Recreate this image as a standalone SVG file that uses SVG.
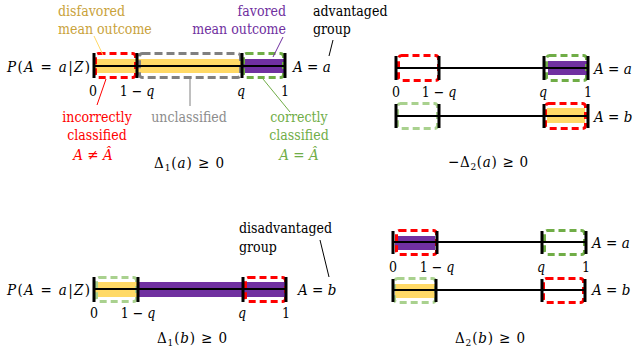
<svg xmlns="http://www.w3.org/2000/svg" width="634" height="354" viewBox="0 0 634 354">
<style>
text{font-family:"DejaVu Serif Condensed","DejaVu Serif","Noto Serif",serif;font-size:14px;fill:#000}
.mt{font-size:15px}
.m{text-anchor:middle}.e{text-anchor:end}
.i{font-style:italic}
.sub{font-size:10px}
.gold{fill:#C9A23A}.pur{fill:#7030A0}.red{fill:#FF0000}.gry{fill:#8C8C8C}.grn{fill:#70AD47}
.axis{stroke:#000;stroke-width:2}
.tick{stroke:#000;stroke-width:3}
.box{fill:none;stroke-width:3;stroke-dasharray:7 4}
.rb{stroke:#FF0000}.gb{stroke:#70AD47}.lgb{stroke:#A9D18E}.grb{stroke:#808080;stroke-dasharray:8 4}
.fy{fill:#FFD966}.fp{fill:#7030A0}
.lead{stroke-width:1;fill:none}
</style>

<g id="panel-1a">
  <rect class="fy" x="94" y="59" width="148" height="14"/>
  <rect class="fp" x="242" y="59" width="43" height="14"/>
  <rect class="box rb" x="95.5" y="53.5" width="40" height="24" rx="3"/>
  <rect class="box grb" x="139.5" y="53.5" width="101" height="24" rx="3"/>
  <rect class="box gb" x="243.5" y="53.5" width="40" height="24" rx="3"/>
  <line class="axis" x1="94" y1="66" x2="285" y2="66"/>
  <line class="tick" x1="94" y1="53" x2="94" y2="78"/>
  <line class="tick" x1="137" y1="53" x2="137" y2="78"/>
  <line class="tick" x1="242" y1="53" x2="242" y2="78"/>
  <line class="tick" x1="285" y1="53" x2="285" y2="78"/>
  <text class="gold" x="58" y="16">disfavored</text>
  <text class="gold" x="58" y="34">mean outcome</text>
  <text class="pur e" x="286" y="16">favored</text>
  <text class="pur e" x="286" y="34">mean outcome</text>
  <text x="313" y="16">advantaged</text>
  <text x="313" y="34">group</text>
  <text class="mt" x="7" y="72" textLength="83" lengthAdjust="spacing"><tspan class="i">P</tspan>(<tspan class="i">A</tspan> = <tspan class="i">a</tspan>|<tspan class="i">Z</tspan>)</text>
  <text class="mt" x="293" y="72"><tspan class="i">A</tspan> = <tspan class="i">a</tspan></text>
  <text class="m" x="93" y="96">0</text>
  <text class="m" x="137" y="96">1 − <tspan class="i">q</tspan></text>
  <text class="m i" x="241" y="96">q</text>
  <text class="m" x="285" y="96">1</text>
  <text class="red m" x="97" y="122">incorrectly</text>
  <text class="red m" x="97" y="140">classified</text>
  <text class="red m mt" x="93" y="160"><tspan class="i">A</tspan> ≠ <tspan class="i">Â</tspan></text>
  <text class="gry m" x="189" y="122">unclassified</text>
  <text class="grn m" x="299" y="122">correctly</text>
  <text class="grn m" x="299" y="140">classified</text>
  <text class="grn m mt" x="299" y="160"><tspan class="i">A</tspan> = <tspan class="i">Â</tspan></text>
  <text class="mt" x="154" y="168" textLength="70" lengthAdjust="spacing">Δ<tspan class="sub" dy="3">1</tspan><tspan dy="-3">(</tspan><tspan class="i">a</tspan>) ≥ 0</text>
</g>

<g id="panel-2a">
  <rect class="fp" x="548" y="61" width="39" height="14"/>
  <rect class="box rb" x="398.5" y="55.5" width="40" height="25" rx="3"/>
  <rect class="box gb" x="546.5" y="55.5" width="40" height="25" rx="3"/>
  <line class="axis" x1="396" y1="68" x2="588" y2="68"/>
  <line class="tick" x1="396" y1="56" x2="396" y2="80"/>
  <line class="tick" x1="439" y1="56" x2="439" y2="80"/>
  <line class="tick" x1="544" y1="56" x2="544" y2="80"/>
  <line class="tick" x1="588" y1="56" x2="588" y2="80"/>
  <text class="mt" x="594" y="74"><tspan class="i">A</tspan> = <tspan class="i">a</tspan></text>
  <text class="m" x="396" y="97">0</text>
  <text class="m" x="439" y="97">1 − <tspan class="i">q</tspan></text>
  <text class="m i" x="543" y="97">q</text>
  <text class="m" x="588" y="97">1</text>
  <rect class="fy" x="547" y="108" width="38" height="15"/>
  <rect class="box lgb" x="397.5" y="103.5" width="40" height="25" rx="3"/>
  <rect class="box rb" x="545.5" y="103.5" width="40" height="25" rx="3"/>
  <line class="axis" x1="396" y1="116" x2="588" y2="116"/>
  <line class="tick" x1="396" y1="104" x2="396" y2="128"/>
  <line class="tick" x1="439" y1="104" x2="439" y2="128"/>
  <line class="tick" x1="544" y1="104" x2="544" y2="128"/>
  <line class="tick" x1="588" y1="104" x2="588" y2="128"/>
  <text class="mt" x="594" y="122"><tspan class="i">A</tspan> = <tspan class="i">b</tspan></text>
  <text class="mt" x="448" y="167" textLength="80" lengthAdjust="spacing">−Δ<tspan class="sub" dy="3">2</tspan><tspan dy="-3">(</tspan><tspan class="i">a</tspan>) ≥ 0</text>
</g>

<g id="panel-1b">
  <rect class="fy" x="94" y="282" width="44" height="15"/>
  <rect class="fp" x="138" y="282" width="148" height="15"/>
  <rect class="box lgb" x="96.5" y="277.5" width="40" height="24" rx="3"/>
  <rect class="box rb" x="245.5" y="277.5" width="40" height="24" rx="3"/>
  <line class="axis" x1="94" y1="289" x2="286" y2="289"/>
  <line class="tick" x1="94" y1="277" x2="94" y2="302"/>
  <line class="tick" x1="138" y1="277" x2="138" y2="302"/>
  <line class="tick" x1="243" y1="277" x2="243" y2="302"/>
  <line class="tick" x1="286" y1="277" x2="286" y2="302"/>
  <text x="239" y="233">disadvantaged</text>
  <text x="239" y="252">group</text>
  <text class="mt" x="7" y="295" textLength="83" lengthAdjust="spacing"><tspan class="i">P</tspan>(<tspan class="i">A</tspan> = <tspan class="i">a</tspan>|<tspan class="i">Z</tspan>)</text>
  <text class="mt" x="298" y="295"><tspan class="i">A</tspan> = <tspan class="i">b</tspan></text>
  <text class="m" x="94" y="318">0</text>
  <text class="m" x="138" y="318">1 − <tspan class="i">q</tspan></text>
  <text class="m i" x="242" y="318">q</text>
  <text class="m" x="286" y="318">1</text>
  <text class="mt" x="157" y="343" textLength="70" lengthAdjust="spacing">Δ<tspan class="sub" dy="3">1</tspan><tspan dy="-3">(</tspan><tspan class="i">b</tspan>) ≥ 0</text>
</g>

<g id="panel-2b">
  <rect class="fp" x="395" y="236" width="40" height="14"/>
  <rect class="box rb" x="396.5" y="230.5" width="40" height="24" rx="3"/>
  <rect class="box gb" x="544.5" y="230.5" width="40" height="24" rx="3"/>
  <line class="axis" x1="393" y1="242" x2="586" y2="242"/>
  <line class="tick" x1="393" y1="231" x2="393" y2="254"/>
  <line class="tick" x1="437" y1="231" x2="437" y2="254"/>
  <line class="tick" x1="542" y1="231" x2="542" y2="254"/>
  <line class="tick" x1="586" y1="231" x2="586" y2="254"/>
  <text class="mt" x="592" y="248"><tspan class="i">A</tspan> = <tspan class="i">a</tspan></text>
  <text class="m" x="393" y="272">0</text>
  <text class="m" x="437" y="272">1 − <tspan class="i">q</tspan></text>
  <text class="m i" x="541" y="272">q</text>
  <text class="m" x="586" y="272">1</text>
  <rect class="fy" x="395" y="284" width="40" height="14"/>
  <rect class="box lgb" x="394.5" y="278.5" width="41" height="24" rx="3"/>
  <rect class="box rb" x="543.5" y="278.5" width="40" height="24" rx="3"/>
  <line class="axis" x1="393" y1="290" x2="586" y2="290"/>
  <line class="tick" x1="393" y1="279" x2="393" y2="302"/>
  <line class="tick" x1="436" y1="279" x2="436" y2="302"/>
  <line class="tick" x1="542" y1="279" x2="542" y2="302"/>
  <line class="tick" x1="585" y1="279" x2="585" y2="302"/>
  <text class="mt" x="592" y="295"><tspan class="i">A</tspan> = <tspan class="i">b</tspan></text>
  <text class="mt" x="455" y="343" textLength="70" lengthAdjust="spacing">Δ<tspan class="sub" dy="3">2</tspan><tspan dy="-3">(</tspan><tspan class="i">b</tspan>) ≥ 0</text>
</g>

<g id="connectors">
  <line class="lead" stroke="#FFD966" x1="94" y1="36" x2="103" y2="55"/>
  <line class="lead" stroke="#7030A0" x1="283" y1="37" x2="273" y2="57"/>
  <line class="lead" stroke="#000" x1="333" y1="40" x2="329" y2="56"/>
  <line class="lead" stroke="#FF0000" x1="106" y1="79" x2="97" y2="105"/>
  <line class="lead" stroke="#808080" x1="190" y1="79" x2="190" y2="106"/>
  <line class="lead" stroke="#70AD47" x1="263" y1="79" x2="290" y2="112"/>
  <line class="lead" stroke="#000" x1="320" y1="240" x2="329" y2="277"/>
</g>
</svg>
